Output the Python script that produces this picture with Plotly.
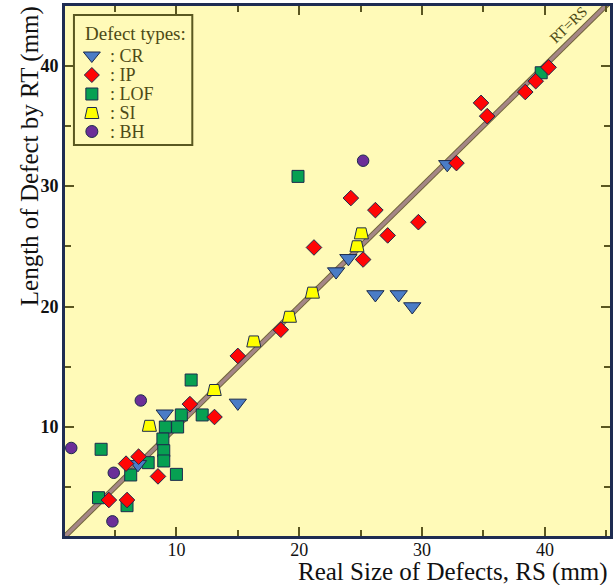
import plotly.graph_objects as go

# ---------------- data (mm) ----------------
cr_x = [9.05, 6.87, 15.0, 23.0, 24.0, 26.2, 28.1, 29.2, 32.05]
cr_y = [11.1, 6.9, 12.0, 22.9, 24.0, 21.0, 21.0, 20.0, 31.8]

ip_x = [11.1, 6.92, 5.9, 8.5, 4.5, 5.98, 13.1, 15.0, 18.5, 24.2, 26.2, 29.7,
        27.2, 21.2, 25.2, 32.8, 34.8, 35.3, 38.4, 39.25, 40.3]
ip_y = [11.9, 7.54, 6.96, 5.9, 3.94, 3.94, 10.83, 15.9, 18.07, 29.0, 28.0, 27.0,
        25.9, 24.9, 23.9, 31.9, 36.9, 35.8, 37.8, 38.7, 39.85]

lof_x = [11.2, 10.4, 12.1, 9.1, 10.1, 3.87, 8.9, 8.97, 8.97, 7.7, 6.28, 10.0,
         3.66, 5.98, 19.9, 39.7]
lof_y = [13.9, 11.0, 11.0, 10.0, 10.0, 8.15, 9.0, 8.03, 7.18, 7.04, 6.02, 6.07,
         4.13, 3.47, 30.8, 39.4]

si_x = [7.8, 13.08, 16.3, 19.2, 21.07, 24.7, 25.06]
si_y = [10.1, 13.07, 17.1, 19.15, 21.15, 25.0, 26.07]

bh_x = [7.1, 1.44, 4.9, 4.79, 25.2]
bh_y = [12.2, 8.26, 6.2, 2.17, 32.1]

ref_line = [0, 50]

types = ["CR", "IP", "LOF", "SI", "BH"]
x_ticks = [10, 20, 30, 40]
y_ticks = [10, 20, 30, 40]

# ---------------- styles ----------------
SERIF = "Liberation Serif"
OLIVE = "#4d4a16"
EDGE = "#1c2a4c"
AXIS = "#1e2c52"
TICK = "#5a5620"
BG = "#FFFAB8"
COL = {"CR": "#4A7CC6", "IP": "#FF0505", "LOF": "#07A052",
       "SI": "#FFFF00", "BH": "#6B2E98"}
TRAP = "M-7,-5.5 L7,-5.5 L4.5,5.5 L-4.5,5.5 Z"

fig = go.Figure()

# RT = RS line
fig.add_trace(go.Scatter(x=ref_line, y=ref_line, mode="lines",
                         line=dict(color="#6f6338", width=5.5),
                         showlegend=False, hoverinfo="skip"))
fig.add_trace(go.Scatter(x=ref_line, y=ref_line, mode="lines",
                         line=dict(color="#A48686", width=3.6),
                         showlegend=False, hoverinfo="skip", name="RT=RS"))

mk_line = dict(color=EDGE, width=1)
fig.add_trace(go.Scatter(x=lof_x, y=lof_y, mode="markers", name=": LOF",
                         marker=dict(symbol="square", size=12, color=COL["LOF"], line=mk_line),
                         showlegend=False))
fig.add_trace(go.Scatter(x=cr_x, y=cr_y, mode="markers", name=": CR",
                         marker=dict(symbol="triangle-down", size=15, color=COL["CR"], line=mk_line),
                         showlegend=False))
fig.add_trace(go.Scatter(x=ip_x, y=ip_y, mode="markers", name=": IP",
                         marker=dict(symbol="diamond", size=12, color=COL["IP"], line=mk_line),
                         showlegend=False))
fig.add_trace(go.Scatter(x=bh_x, y=bh_y, mode="markers", name=": BH",
                         marker=dict(symbol="circle", size=11.5, color=COL["BH"], line=mk_line),
                         showlegend=False))
# SI points: invisible carrier trace, drawn as trapezoid shapes anchored at the data
fig.add_trace(go.Scatter(x=si_x, y=si_y, mode="markers", name=": SI",
                         marker=dict(size=14, opacity=0), showlegend=False))

shapes = []
for xv, yv in zip(si_x, si_y):
    shapes.append(dict(type="path", xref="x", yref="y", xsizemode="pixel", ysizemode="pixel",
                       xanchor=xv, yanchor=yv, path=TRAP, fillcolor=COL["SI"],
                       line=dict(color=EDGE, width=1), layer="above"))

# ---------------- manual legend ----------------
L, R, T, B = 65, 613, 6, 536
W, H = R - L, B - T
px = lambda v: (v - L) / W
py = lambda v: (B - v) / H

shapes.append(dict(type="rect", xref="paper", yref="paper",
                   x0=px(74), x1=px(193), y0=py(145), y1=py(15),
                   line=dict(color="#5a5820", width=2), fillcolor="rgba(0,0,0,0)", layer="above"))

sym_paths = {
    "CR": "M-8.5,4 L8.5,4 L0,-6.5 Z",
    "IP": "M0,7.5 L7.5,0 L0,-7.5 L-7.5,0 Z",
    "LOF": "M-6,-6 L6,-6 L6,6 L-6,6 Z",
    "SI": TRAP,
}
item_y = [56, 75, 94, 113, 131.5]
annotations = [dict(text="Defect types:", xref="paper", yref="paper", x=px(83), y=py(34),
                    xanchor="left", yanchor="middle", showarrow=False,
                    font=dict(family=SERIF, size=19, color=OLIVE))]
for t, yy in zip(types, item_y):
    if t == "BH":
        shapes.append(dict(type="circle", xref="paper", yref="paper", xsizemode="pixel",
                           ysizemode="pixel", xanchor=px(92), yanchor=py(yy),
                           x0=-6, x1=6, y0=-6, y1=6, fillcolor=COL[t],
                           line=dict(color=EDGE, width=1), layer="above"))
    else:
        shapes.append(dict(type="path", xref="paper", yref="paper", xsizemode="pixel",
                           ysizemode="pixel", xanchor=px(92), yanchor=py(yy),
                           path=sym_paths[t], fillcolor=COL[t],
                           line=dict(color=EDGE, width=1), layer="above"))
    annotations.append(dict(text=": " + t, xref="paper", yref="paper", x=px(108), y=py(yy),
                            xanchor="left", yanchor="middle", showarrow=False,
                            font=dict(family=SERIF, size=18, color=OLIVE)))

# axis titles and line label
annotations.append(dict(text="Length of Defect by RT (mm)", xref="paper", yref="paper",
                        x=px(30), y=py(156), textangle=-90, showarrow=False,
                        xanchor="center", yanchor="middle",
                        font=dict(family=SERIF, size=25, color="#111111")))
annotations.append(dict(text="Real Size of Defects, RS (mm)", xref="paper", yref="paper",
                        x=px(455), y=py(572), showarrow=False,
                        xanchor="center", yanchor="middle",
                        font=dict(family=SERIF, size=25, color="#111111")))
annotations.append(dict(text="RT=RS", xref="paper", yref="paper", x=px(571), y=py(25),
                        textangle=-44, showarrow=False, xanchor="center", yanchor="middle",
                        font=dict(family=SERIF, size=15, color=OLIVE)))

axis_common = dict(showgrid=False, zeroline=False, showline=True, linecolor=AXIS, linewidth=3,
                   mirror="ticks", ticks="inside", ticklen=9, tickwidth=2, tickcolor=TICK,
                   minor=dict(ticks="inside", ticklen=6, tickwidth=2, tickcolor=TICK,
                              tick0=0, dtick=5))
fig.update_xaxes(range=[0.93, 45.3], tickvals=x_ticks, **axis_common, ticklabelstandoff=-5,
                 tickfont=dict(family=SERIF, size=18, color="#111111"))
fig.update_yaxes(range=[0.954, 44.94], tickvals=y_ticks, **axis_common,
                 tickfont=dict(family=SERIF, size=18, color="#111111", weight="bold"))

fig.update_layout(width=616, height=585, margin=dict(l=L, r=616 - R, t=T, b=585 - B),
                  plot_bgcolor=BG, paper_bgcolor="white", showlegend=False,
                  shapes=shapes, annotations=annotations)

fig.write_html("out.html")
